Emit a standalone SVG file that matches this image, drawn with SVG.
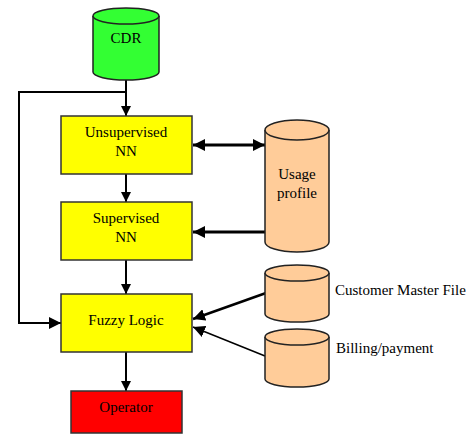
<svg xmlns="http://www.w3.org/2000/svg" width="472" height="435" viewBox="0 0 472 435">
<defs>
<style>
.box{stroke:#333;stroke-width:1.5}
.cyl{stroke:#222;stroke-width:1.5}
.t{font-family:'Liberation Serif','Times New Roman','DejaVu Serif',serif;font-size:15px;fill:#000}
.c{text-anchor:middle}
.ln{fill:none;stroke:#000;stroke-width:2}
.thick{fill:none;stroke:#000;stroke-width:3}
</style>
<marker id="ah" markerWidth="10" markerHeight="10" viewBox="0 0 10 10" refX="10" refY="5" orient="auto-start-reverse" markerUnits="userSpaceOnUse">
<path d="M0,0 L10,5 L0,10 Z" fill="#000"/>
</marker>
<marker id="ahb" markerWidth="12" markerHeight="12" viewBox="0 0 10 10" refX="10" refY="5" orient="auto-start-reverse" markerUnits="userSpaceOnUse">
<path d="M0,0 L10,5 L0,10 Z" fill="#000"/>
</marker>
</defs>
<rect width="472" height="435" fill="#fff"/>
<g id="connectors">
<line class="ln" x1="126" y1="79" x2="126" y2="116" marker-end="url(#ah)"/>
<polyline class="ln" points="126,92 19,92 19,323 61,323" marker-end="url(#ahb)"/>
<line class="ln" x1="126" y1="174" x2="126" y2="202" marker-end="url(#ah)"/>
<line class="ln" x1="126" y1="260" x2="126" y2="294" marker-end="url(#ah)"/>
<line class="ln" x1="126" y1="352" x2="126" y2="391" marker-end="url(#ah)"/>
<line class="thick" x1="193" y1="145" x2="265" y2="145" marker-start="url(#ahb)" marker-end="url(#ahb)"/>
<line class="thick" x1="266" y1="232" x2="193" y2="232" marker-end="url(#ahb)"/>
<line fill="none" stroke="#000" stroke-width="2.5" x1="266" y1="293" x2="193" y2="319" marker-end="url(#ahb)"/>
<line fill="none" stroke="#000" stroke-width="1.5" x1="265" y1="356" x2="193" y2="327" marker-end="url(#ahb)"/>
</g>
<g id="cdr">
<path class="cyl" fill="#33ff33" d="M93,16 L93,72 A33,8 0 0 0 159,72 L159,16"/>
<ellipse class="cyl" fill="#33ff33" cx="126" cy="16" rx="33" ry="8"/>
<text class="t c" x="126" y="43">CDR</text>
</g>
<g id="unsupervised">
<rect class="box" fill="#ffff00" x="61" y="116" width="131" height="58"/>
<text class="t c" x="126" y="137">Unsupervised</text>
<text class="t c" x="126" y="156">NN</text>
</g>
<g id="supervised">
<rect class="box" fill="#ffff00" x="61" y="202" width="131" height="58"/>
<text class="t c" x="126" y="223">Supervised</text>
<text class="t c" x="126" y="242">NN</text>
</g>
<g id="fuzzy">
<rect class="box" fill="#ffff00" x="61" y="294" width="131" height="58"/>
<text class="t c" x="126" y="325">Fuzzy Logic</text>
</g>
<g id="operator">
<rect class="box" fill="#ff0000" x="71" y="391" width="111" height="42"/>
<text class="t c" x="126" y="412">Operator</text>
</g>
<g id="usage">
<path class="cyl" fill="#ffcc99" d="M265,130 L265,242 A32,10 0 0 0 329,242 L329,130"/>
<ellipse class="cyl" fill="#ffcc99" cx="297" cy="130" rx="32" ry="10"/>
<text class="t c" x="297" y="179">Usage</text>
<text class="t c" x="297" y="198">profile</text>
</g>
<g id="customer">
<path class="cyl" fill="#ffcc99" d="M265,273 L265,314 A32,8 0 0 0 329,314 L329,273"/>
<ellipse class="cyl" fill="#ffcc99" cx="297" cy="273" rx="32" ry="8"/>
<text class="t" x="335" y="295">Customer Master File</text>
</g>
<g id="billing">
<path class="cyl" fill="#ffcc99" d="M265,337 L265,379 A32,8 0 0 0 329,379 L329,337"/>
<ellipse class="cyl" fill="#ffcc99" cx="297" cy="337" rx="32" ry="8"/>
<text class="t" x="336" y="353">Billing/payment</text>
</g>
</svg>
